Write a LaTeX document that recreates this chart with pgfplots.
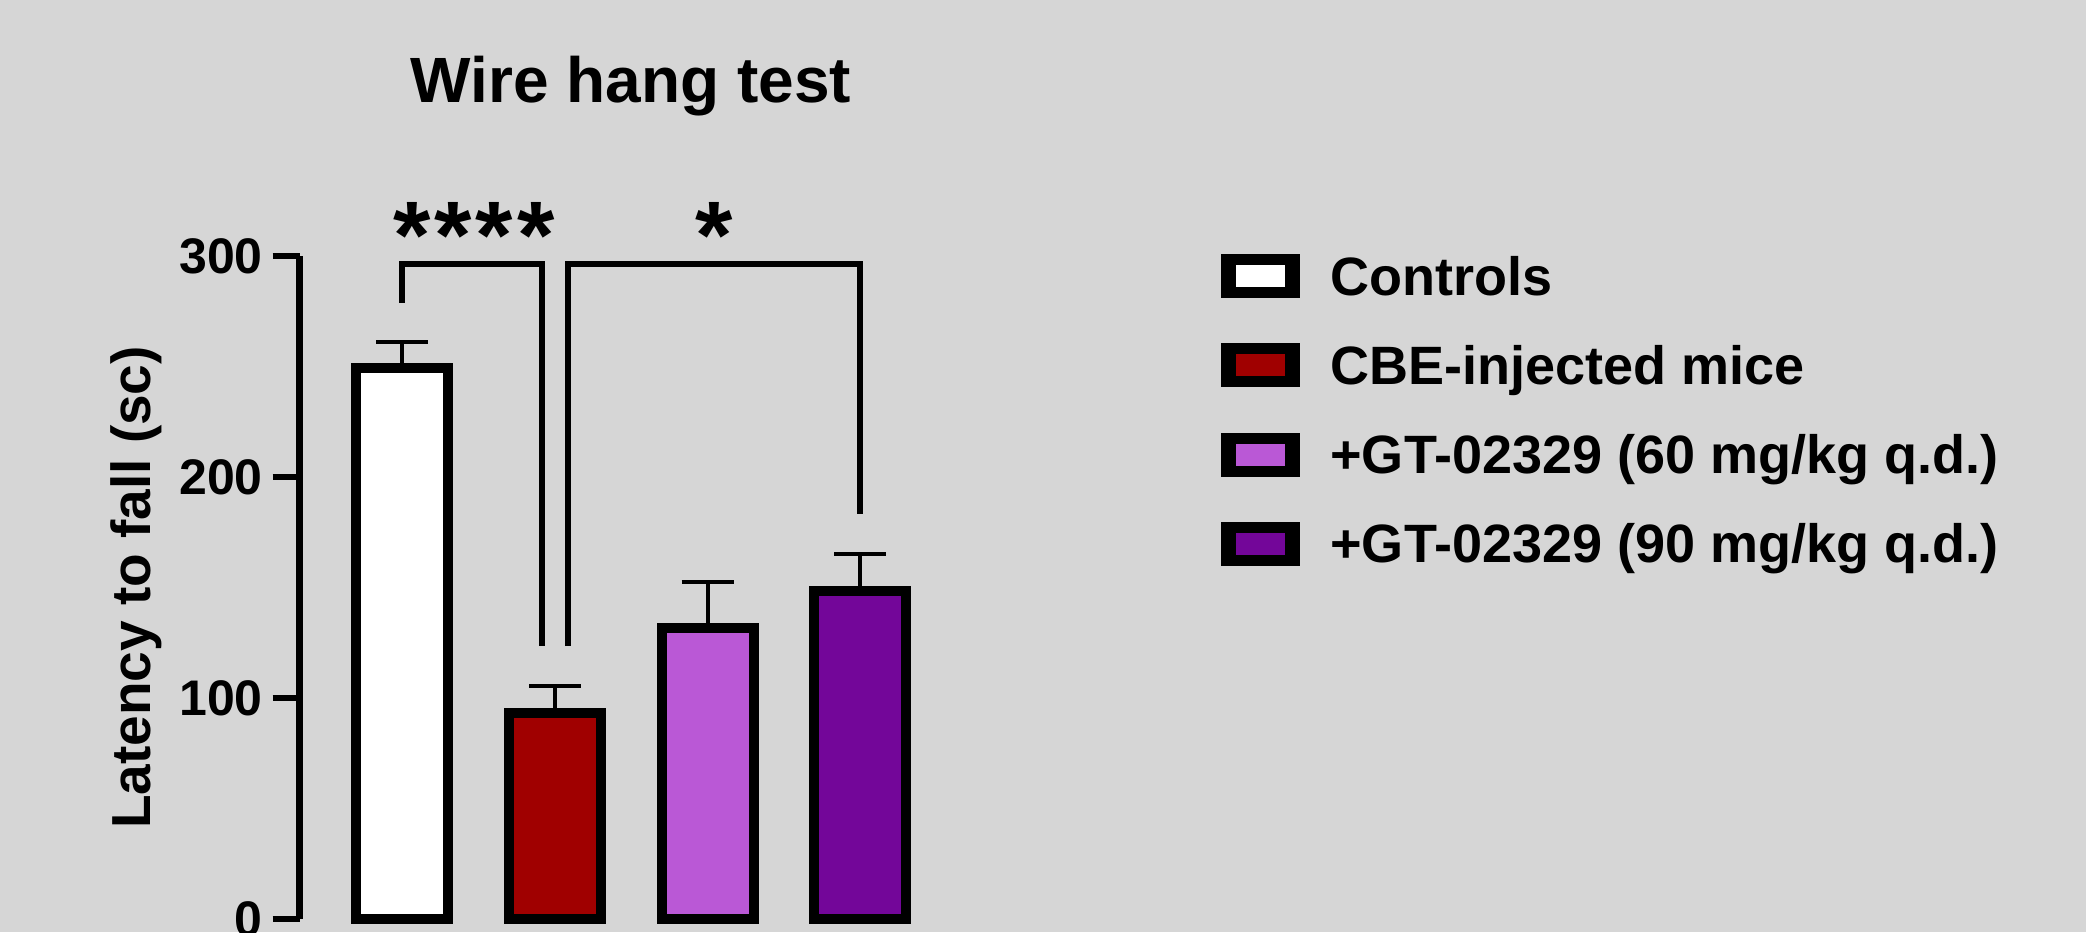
\documentclass[border=0pt]{standalone}
\usepackage{fontspec}
\setmainfont{Liberation Sans}
\usepackage{pgfplots}
\pgfplotsset{compat=1.18}
\definecolor{bgc}{RGB}{214,214,214}
\definecolor{cbe}{RGB}{160,0,0}
\definecolor{gsixty}{RGB}{186,88,214}
\definecolor{gninety}{RGB}{115,6,153}
\pgfplotsset{myerr/.style={error bars/.cd, y dir=plus, y explicit,
  error bar style={line width=1pt, black},
  error mark options={rotate=90, mark size=6.5pt, line width=1pt, black}}}
\begin{document}
\begin{tikzpicture}
\useasboundingbox (0,0) rectangle (521.5pt,233pt);
\clip (0,0) rectangle (521.5pt,233pt);
\fill[bgc] (0,0) rectangle (521.5pt,233pt);
\begin{axis}[
  at={(74.925pt,3.25pt)}, anchor=south west,
  scale only axis, width=163.08pt, height=165.75pt,
  xmin=-0.672, xmax=3.6, ymin=0, ymax=300,
  axis x line=none, axis y line*=left,
  axis line style={-, line width=1.65pt, black},
  ytick={0,100,200,300},
  tick align=outside, major tick length=6.75pt,
  ytick style={line width=1.65pt, black},
  /pgf/number format/assume math mode=true,
  yticklabel style={font=\bfseries\fontsize{12.5}{12.5}\selectfont, inner sep=0pt, anchor=east, xshift=-2.3pt},
  ylabel={Latency to fall (sc)},
  ylabel style={font=\bfseries\fontsize{13.75}{13.75}\selectfont, at={(axis description cs:-0.2285,0.5)}, anchor=base, inner sep=0pt},
  title={Wire hang test},
  title style={font=\bfseries\fontsize{16}{16}\selectfont, at={(axis description cs:0.508,1.195)}, anchor=base, inner sep=0pt},
  ybar, bar width=23pt, bar shift=0pt,
  clip=false,
  legend style={at={(axis description cs:1.4124,1.0025)}, anchor=north west, draw=none, fill=none,
    inner sep=0pt, outer sep=0pt, row sep=8.7pt,
    font=\bfseries\fontsize{13.5}{13.5}\selectfont,
    nodes={inner sep=0pt, text height=10pt, text depth=3.25pt},
    /tikz/every odd column/.append style={column sep=7.6pt}},
  legend cell align=left,
  legend image code/.code={\fill[black] (0pt,-2.8pt) rectangle (17.25pt,5.7pt);
    \path[#1, draw=none] (2.5pt,-1.3pt) rectangle (14.75pt,4.2pt);},
]
\addplot[draw=black, line width=2.5pt, fill=white, myerr] coordinates {(0,249.1) +- (0,12.0)};
\addlegendentry{Controls}
\addplot[draw=black, line width=2.5pt, fill=cbe, myerr] coordinates {(1,93.1) +- (0,12.3)};
\addlegendentry{CBE-injected mice}
\addplot[draw=black, line width=2.5pt, fill=gsixty, myerr] coordinates {(2,131.5) +- (0,21.0)};
\addlegendentry{+GT-02329 (60 mg/kg q.d.)}
\addplot[draw=black, line width=2.5pt, fill=gninety, myerr] coordinates {(3,148.6) +- (0,16.7)};
\addlegendentry{+GT-02329 (90 mg/kg q.d.)}
\addplot[forget plot, sharp plot, draw=black, line width=1.5pt, fill=none, mark=none]
  coordinates {(0,278.8) (0,296.4) (0.912,296.4) (0.912,123.5)};
\addplot[forget plot, sharp plot, draw=black, line width=1.5pt, fill=none, mark=none]
  coordinates {(1.085,123.5) (1.085,296.4) (3.0,296.4) (3.0,183.1)};
\node[font=\bfseries\fontsize{24}{24}\selectfont, anchor=base, inner sep=0pt] at (axis cs:0.468,294.4) {*\hspace{1pt}*\hspace{1pt}*\hspace{1pt}*};
\node[font=\bfseries\fontsize{24}{24}\selectfont, anchor=base, inner sep=0pt] at (axis cs:2.043,294.4) {*};
\end{axis}
\end{tikzpicture}
\end{document}
